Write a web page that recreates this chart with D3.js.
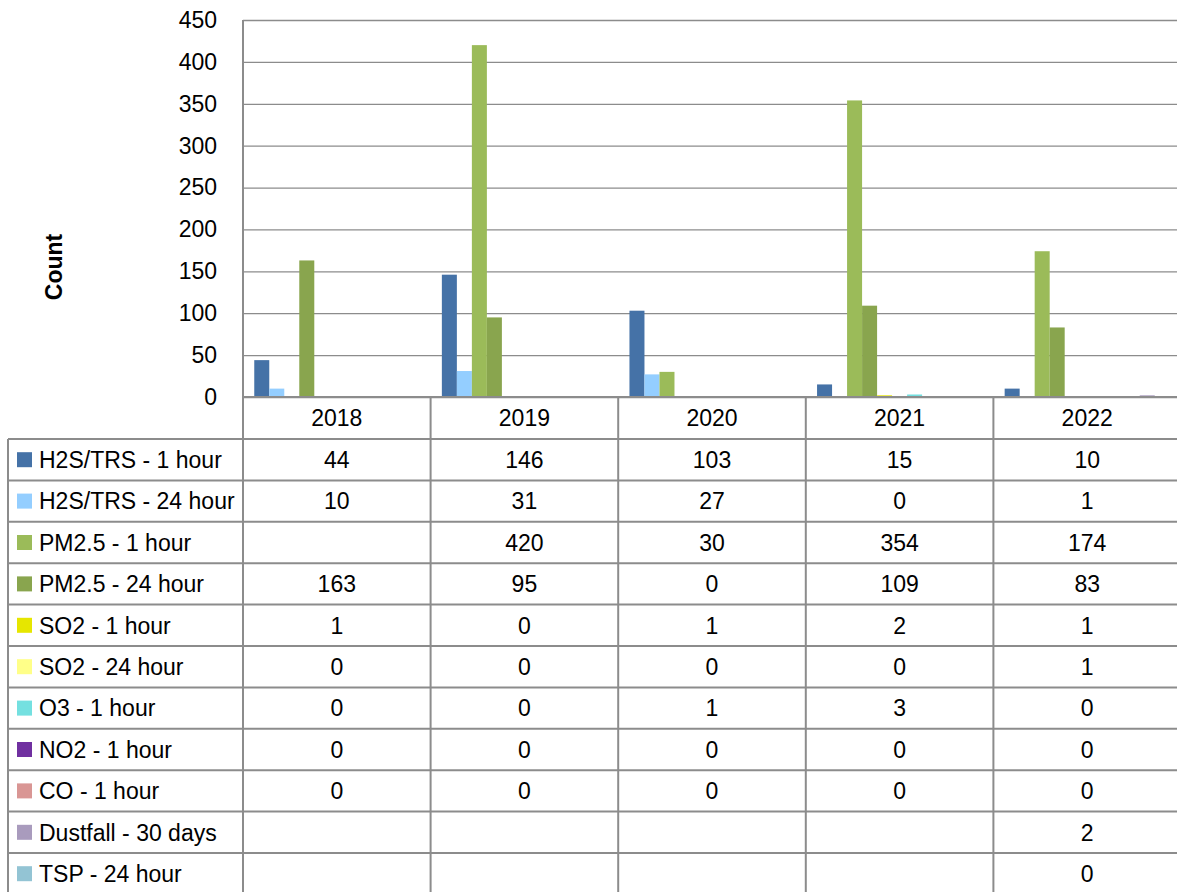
<!DOCTYPE html>
<html><head><meta charset="utf-8">
<script src="https://cdn.jsdelivr.net/npm/d3@7"></script>
<style>html,body{margin:0;padding:0;background:#fff;}svg{display:block;font-family:"Liberation Sans",Arial,sans-serif;}</style>
</head><body><svg id="c" width="1177" height="892"></svg>
<script>
const years = ["2018","2019","2020","2021","2022"];
const seriesNames = ["H2S/TRS - 1 hour","H2S/TRS - 24 hour","PM2.5 - 1 hour","PM2.5 - 24 hour","SO2 - 1 hour","SO2 - 24 hour","O3 - 1 hour","NO2 - 1 hour","CO - 1 hour","Dustfall - 30 days","TSP - 24 hour"];
const h2s1 = [44,146,103,15,10];
const h2s24 = [10,31,27,0,1];
const pm1 = [null,420,30,354,174];
const pm24 = [163,95,0,109,83];
const so21 = [1,0,1,2,1];
const so224 = [0,0,0,0,1];
const o31 = [0,0,1,3,0];
const no21 = [0,0,0,0,0];
const co1 = [0,0,0,0,0];
const dust30 = [null,null,null,null,2];
const tsp24 = [null,null,null,null,0];
const seriesValues = [h2s1,h2s24,pm1,pm24,so21,so224,o31,no21,co1,dust30,tsp24];
const colors = ["#4572A7","#94CEFF","#9BBB59","#89A54E","#E6E600","#FFFF88","#74E0E0","#7030A0","#D99694","#A99BBD","#93C4D4"];
const yTicks = [0,50,100,150,200,250,300,350,400,450];

(function(){
const svg = d3.select("#c");
const L = 243, colW = 187.6, T = 20, base = 397, rowH = 41.4, headH = 42, tableLeft = 8, W = 1177;
const x = d3.scaleBand().domain(years).range([L, L + colW*years.length]).paddingInner(0).paddingOuter(0);
const xs = d3.scaleBand().domain(seriesNames).range([0, x.bandwidth()]).paddingInner(0).paddingOuter(0.75);
const y = d3.scaleLinear().domain([0,450]).range([base, T]);
const gridC = "#8c8c8c";

const yAxis = d3.axisLeft(y).tickValues(yTicks).tickSize(-(W-L)).tickPadding(26);
const ga = svg.append("g").attr("transform",`translate(${L},0)`).call(yAxis);
ga.select(".domain").remove();
ga.selectAll(".tick line").attr("stroke",gridC).attr("stroke-width",1.3);
ga.selectAll(".tick text").attr("font-size",23).attr("fill","#000").attr("font-family","Liberation Sans, Arial, sans-serif");

seriesNames.forEach((s,si)=>{
  svg.append("g").selectAll("rect").data(years.map((yr,i)=>({yr,v:seriesValues[si][i]})).filter(d=>d.v!==null))
    .join("rect")
    .attr("x",d=>x(d.yr)+xs(s))
    .attr("width",xs.bandwidth())
    .attr("y",d=>y(d.v))
    .attr("height",d=>Math.max(0,base-y(d.v)))
    .attr("fill",colors[si]);
});

svg.append("line").attr("x1",L).attr("x2",L).attr("y1",T).attr("y2",892).attr("stroke",gridC).attr("stroke-width",2);

svg.append("text").attr("transform","translate(62,267) rotate(-90)").attr("text-anchor","middle")
  .attr("font-size",23).attr("font-weight","bold").text("Count");

const tb = svg.append("g");
const tableBottom = base + headH + rowH*seriesNames.length;
for(let r=0;r<=seriesNames.length;r++){
  const yy = base + headH + r*rowH;
  tb.append("line").attr("x1",tableLeft).attr("x2",W).attr("y1",yy).attr("y2",yy).attr("stroke",gridC).attr("stroke-width",2);
}
tb.append("line").attr("x1",L).attr("x2",W).attr("y1",base).attr("y2",base).attr("stroke",gridC).attr("stroke-width",2);
tb.append("line").attr("x1",tableLeft).attr("x2",tableLeft).attr("y1",base+headH).attr("y2",tableBottom).attr("stroke",gridC).attr("stroke-width",2);
years.forEach(yr=>{
  const xx = x(yr)+x.bandwidth();
  tb.append("line").attr("x1",xx).attr("x2",xx).attr("y1",base).attr("y2",tableBottom).attr("stroke",gridC).attr("stroke-width",2);
});

svg.append("g").selectAll("text").data(years).join("text")
  .attr("x",d=>x(d)+x.bandwidth()/2).attr("y",base+headH/2).attr("dy","0.36em")
  .attr("text-anchor","middle").attr("font-size",23).text(d=>d);

seriesNames.forEach((s,si)=>{
  const cy = base + headH + si*rowH + rowH/2;
  svg.append("rect").attr("x",17).attr("y",cy-7.5).attr("width",15).attr("height",15).attr("fill",colors[si]);
  svg.append("text").attr("x",39).attr("y",cy).attr("dy","0.36em").attr("font-size",23).text(s);
  years.forEach((yr,i)=>{
    const v = seriesValues[si][i];
    if(v===null) return;
    svg.append("text").attr("x",x(yr)+x.bandwidth()/2).attr("y",cy).attr("dy","0.36em")
      .attr("text-anchor","middle").attr("font-size",23).text(v);
  });
});
})();
</script></body></html>
